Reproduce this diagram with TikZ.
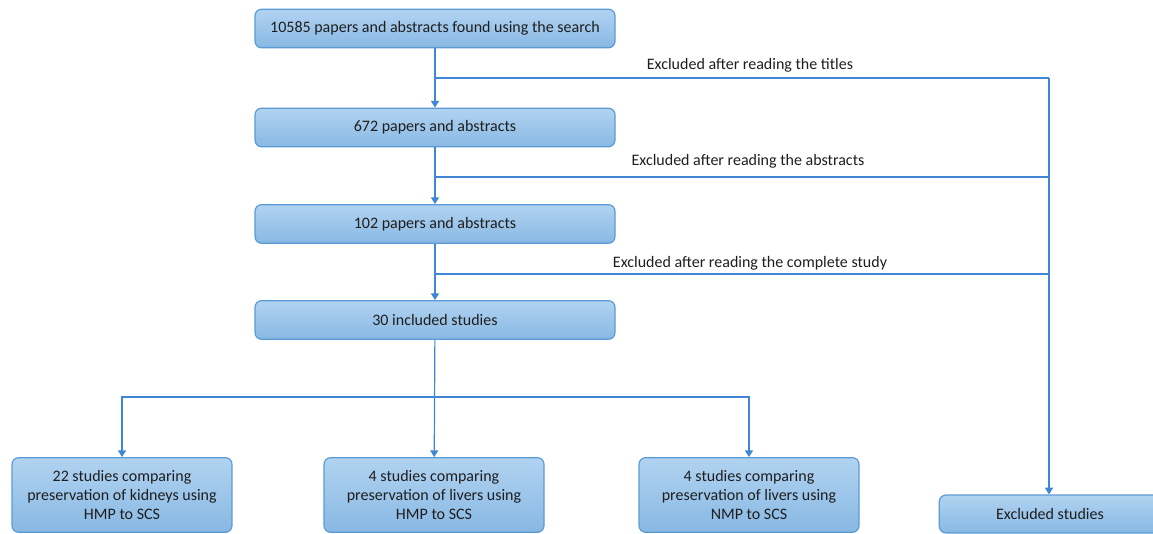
\documentclass[tikz,border=0pt]{standalone}
\usepackage{fontspec}
\setmainfont{Carlito}
\usetikzlibrary{arrows.meta}
\usetikzlibrary{positioning}

\definecolor{boxtop}{HTML}{B1D3F1}
\definecolor{boxbot}{HTML}{88B8E3}
\definecolor{boxline}{HTML}{5B9BD5}
\definecolor{flowline}{HTML}{3F86D6}
\definecolor{txt}{HTML}{1E1E1E}

\tikzset{
	stagebox/.style={draw=boxline, line width=0.9pt, rounded corners=5pt,
		top color=boxtop, bottom color=boxbot, text=txt, align=center,
		inner sep=0pt, font=\fontsize{12}{14.6}\selectfont},
	flow/.style={draw=flowline, line width=0.9pt},
	flowarrow/.style={flow, -{Triangle[width=6pt,length=5pt]}},
	exlabel/.style={text=txt, font=\fontsize{12}{14.6}\selectfont, inner sep=0pt}
}

\begin{document}
\begin{tikzpicture}[x=0.75pt,y=-0.75pt]
					\useasboundingbox (0,0) rectangle (1153,534);

					\node[stagebox, minimum width=270pt, minimum height=29pt] (S0) at (435,28.5) {10585 papers and abstracts found using the search};
					\node[stagebox, minimum width=270pt, minimum height=29pt] (S1) at (435,127.5) {672 papers and abstracts};
					\node[stagebox, minimum width=270pt, minimum height=29pt] (S2) at (435,224) {102 papers and abstracts};
					\node[stagebox, minimum width=270pt, minimum height=29pt] (S3) at (435,320) {30 included studies};

					\node[stagebox, minimum width=165pt, minimum height=56pt] (K22) at (122,495) {22 studies comparing\\preservation of kidneys using\\HMP to SCS};
					\node[stagebox, minimum width=165pt, minimum height=56pt] (L4H) at (434,495) {4 studies comparing\\preservation of livers using\\HMP to SCS};
					\node[stagebox, minimum width=165pt, minimum height=56pt] (L4N) at (749,495) {4 studies comparing\\preservation of livers using\\NMP to SCS};
					\node[stagebox, minimum width=166pt, minimum height=28.5pt] (EX) at (1050,514) {Excluded studies};

					\coordinate (T0) at (435,78);
					\coordinate (T1) at (435,177);
					\coordinate (T2) at (435,274);
					\coordinate (R0) at (1049,78);
					\coordinate (R1) at (1049,177);
					\coordinate (R2) at (1049,274);
					\coordinate (B0) at (435,397);
					\coordinate (BL) at (122,397);
					\coordinate (BR) at (749,397);

					% main column
					\draw[flowarrow] (S0) -- (S1);
					\draw[flowarrow] (S1) -- (S2);
					\draw[flowarrow] (S2) -- (S3);
					\draw[flowarrow] (S3) -- (L4H);

					% exclusions
					\draw[flow] (T0) -- (R0);
					\draw[flow] (T1) -- (R1);
					\draw[flow] (T2) -- (R2);
					\draw[flowarrow] (R0) -- (R0 |- EX.north);
					\node[exlabel] at (750,65) {Excluded after reading the titles};
					\node[exlabel] at (748,161) {Excluded after reading the abstracts};
					\node[exlabel] at (750,263) {Excluded after reading the complete study};

					% split to the three groups
					\draw[flowarrow] (B0) -| (K22);
					\draw[flowarrow] (B0) -| (L4N);

\end{tikzpicture}
\end{document}
